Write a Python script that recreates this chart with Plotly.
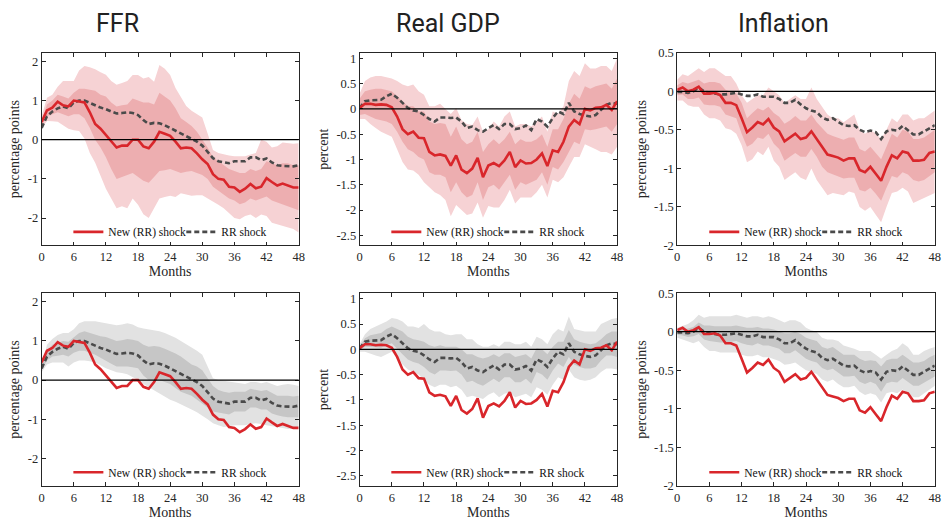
import plotly.graph_objects as go

MONTHS = list(range(49))
X_TICKS = list(range(0, 49, 6))
PANEL_TITLES = ["FFR", "Real GDP", "Inflation"]
Y_TITLES = ["percentage points", "percent", "percentage points"]
Y_TICKS = [[-2, -1, 0, 1, 2], [-2.5, -2, -1.5, -1, -0.5, 0, 0.5, 1], [-2, -1.5, -1, -0.5, 0, 0.5]]
Y_RANGES = [[-2.7, 2.22], [-2.7, 1.11], [-2.0, 0.5]]
LEGEND_NAMES = ["New (RR) shock", "RR shock"]

# ---------------- FFR ----------------
FFR_NEW = [0.45,0.75,0.82,0.97,0.88,0.85,1.0,0.98,0.95,0.7,0.4,0.28,0.12,-0.05,-0.2,-0.15,-0.15,0.0,0.0,-0.17,-0.22,-0.05,0.2,0.15,0.1,-0.05,-0.22,-0.2,-0.22,-0.35,-0.5,-0.62,-0.88,-1.0,-1.02,-1.2,-1.22,-1.33,-1.25,-1.13,-1.24,-1.2,-0.98,-1.08,-1.17,-1.12,-1.17,-1.22,-1.22]
FFR_RR = [0.3,0.6,0.72,0.8,0.85,0.8,0.95,1.0,1.0,0.95,0.88,0.82,0.78,0.72,0.67,0.68,0.7,0.68,0.63,0.5,0.4,0.43,0.42,0.37,0.3,0.22,0.14,0.07,0.02,-0.05,-0.15,-0.3,-0.47,-0.55,-0.57,-0.6,-0.55,-0.55,-0.55,-0.45,-0.45,-0.52,-0.48,-0.58,-0.65,-0.67,-0.68,-0.68,-0.65]
FFR_NEW_HI90 = [0.6,1.07,1.15,1.35,1.5,1.5,1.5,1.77,1.88,1.85,1.8,1.72,1.66,1.5,1.4,1.45,1.5,1.65,1.65,1.56,1.6,1.48,1.91,1.81,1.65,1.32,1.07,0.86,0.74,0.65,0.57,0.16,-0.26,-0.34,-0.38,-0.4,-0.42,-0.42,-0.42,-0.38,-0.34,0.0,-0.05,-0.2,-0.17,-0.07,-0.09,-0.1,-0.09]
FFR_NEW_LO90 = [0.3,0.48,0.47,0.46,0.38,0.28,0.24,0.22,0.03,-0.34,-0.59,-0.92,-1.25,-1.5,-1.75,-1.7,-1.75,-1.5,-1.66,-1.9,-2.0,-1.75,-1.5,-1.46,-1.43,-1.46,-1.37,-1.4,-1.43,-1.42,-1.42,-1.5,-1.58,-1.66,-1.75,-1.87,-2.0,-2.03,-1.95,-1.91,-2.0,-1.91,-1.95,-2.12,-2.16,-2.2,-2.24,-2.28,-2.37]
FFR_NEW_HI68 = [0.5,0.9,1.0,1.15,1.1,1.05,1.2,1.3,1.3,1.28,1.25,1.15,1.1,0.95,0.85,0.88,0.9,1.05,1.0,0.95,0.95,0.9,1.2,1.1,1.0,0.8,0.55,0.45,0.35,0.2,0.0,-0.2,-0.45,-0.55,-0.65,-0.75,-0.8,-0.85,-0.85,-0.75,-0.8,-0.75,-0.55,-0.6,-0.65,-0.6,-0.6,-0.65,-0.65]
FFR_NEW_LO68 = [0.35,0.6,0.65,0.7,0.65,0.6,0.65,0.65,0.55,0.3,0.0,-0.2,-0.45,-0.75,-1.0,-0.95,-0.9,-0.85,-0.95,-1.05,-1.1,-0.95,-0.8,-0.78,-0.75,-0.8,-0.85,-0.82,-0.8,-0.85,-0.9,-1.0,-1.2,-1.3,-1.4,-1.5,-1.55,-1.65,-1.6,-1.5,-1.55,-1.5,-1.45,-1.55,-1.6,-1.65,-1.7,-1.75,-1.8]
FFR_RR_HI90 = [0.35,0.9,1.05,1.15,1.2,1.2,1.3,1.45,1.5,1.5,1.5,1.48,1.45,1.42,1.4,1.42,1.45,1.42,1.35,1.32,1.3,1.28,1.25,1.2,1.15,1.08,1.0,0.92,0.85,0.75,0.65,0.35,0.05,0.0,-0.02,-0.03,-0.05,-0.08,-0.1,-0.05,-0.05,-0.08,-0.05,-0.1,-0.15,-0.12,-0.1,-0.12,-0.15]
FFR_RR_LO90 = [0.2,0.4,0.45,0.45,0.45,0.35,0.45,0.5,0.5,0.48,0.45,0.38,0.3,0.25,0.2,0.18,0.15,0.08,0.0,-0.1,-0.2,-0.28,-0.35,-0.42,-0.5,-0.55,-0.6,-0.68,-0.75,-0.82,-0.9,-1.0,-1.1,-1.15,-1.2,-1.18,-1.15,-1.15,-1.15,-1.12,-1.1,-1.12,-1.15,-1.18,-1.2,-1.22,-1.25,-1.25,-1.25]
FFR_RR_HI68 = [0.32,0.75,0.9,0.95,1.0,0.98,1.1,1.2,1.25,1.2,1.15,1.12,1.1,1.05,1.0,1.02,1.05,1.03,1.0,0.9,0.85,0.87,0.85,0.8,0.75,0.68,0.6,0.5,0.4,0.35,0.25,0.05,-0.15,-0.25,-0.3,-0.32,-0.3,-0.3,-0.3,-0.22,-0.25,-0.28,-0.25,-0.32,-0.4,-0.4,-0.4,-0.42,-0.4]
FFR_RR_LO68 = [0.25,0.5,0.6,0.62,0.65,0.6,0.7,0.75,0.75,0.7,0.65,0.58,0.5,0.42,0.35,0.35,0.35,0.33,0.3,0.12,0.0,0.02,0.0,-0.05,-0.1,-0.2,-0.3,-0.35,-0.4,-0.5,-0.6,-0.7,-0.8,-0.83,-0.85,-0.88,-0.8,-0.8,-0.8,-0.7,-0.7,-0.75,-0.75,-0.85,-0.9,-0.93,-0.95,-0.95,-0.95]

# ---------------- Real GDP ----------------
GDP_NEW = [0.02,0.1,0.1,0.08,0.09,0.08,0.03,-0.15,-0.4,-0.5,-0.45,-0.57,-0.58,-0.85,-0.92,-0.9,-0.93,-1.12,-0.92,-1.2,-1.27,-1.18,-0.97,-1.35,-1.12,-1.07,-1.13,-1.02,-0.85,-1.15,-1.02,-1.08,-1.07,-1.0,-0.88,-1.13,-0.82,-0.85,-0.65,-0.35,-0.22,-0.3,0.0,-0.03,0.02,0.03,0.08,-0.02,0.15]
GDP_RR = [0.02,0.15,0.17,0.17,0.18,0.25,0.3,0.22,0.12,0.02,-0.03,-0.05,-0.12,-0.2,-0.25,-0.17,-0.17,-0.18,-0.17,-0.25,-0.38,-0.35,-0.42,-0.45,-0.38,-0.32,-0.4,-0.3,-0.3,-0.4,-0.38,-0.33,-0.42,-0.2,-0.25,-0.35,-0.18,-0.05,-0.1,0.12,-0.05,-0.1,-0.13,-0.15,-0.12,-0.02,0.08,0.12,0.1]
GDP_NEW_HI90 = [0.3,0.55,0.62,0.65,0.65,0.63,0.6,0.55,0.48,0.45,0.48,0.35,0.28,0.05,0.05,0.1,0.0,-0.1,0.02,-0.22,-0.3,-0.32,-0.15,-0.45,-0.4,-0.25,-0.35,-0.15,-0.05,-0.35,-0.3,-0.3,-0.35,-0.25,-0.15,-0.45,-0.05,-0.1,0.05,0.55,0.75,0.65,0.9,0.8,0.8,0.85,0.85,0.75,1.0]
GDP_NEW_LO90 = [-0.2,-0.2,-0.3,-0.38,-0.45,-0.5,-0.55,-0.8,-1.05,-1.2,-1.22,-1.3,-1.45,-1.55,-1.65,-1.7,-1.8,-2.12,-1.9,-2.0,-2.1,-2.07,-1.85,-2.15,-1.92,-1.95,-1.95,-1.8,-1.6,-1.87,-1.75,-1.75,-1.75,-1.65,-1.5,-1.75,-1.4,-1.45,-1.35,-1.15,-0.95,-0.95,-0.7,-0.75,-0.8,-0.85,-0.85,-0.9,-0.75]
GDP_NEW_HI68 = [0.2,0.35,0.38,0.4,0.4,0.38,0.35,0.25,0.15,0.05,0.05,-0.05,-0.05,-0.25,-0.3,-0.28,-0.3,-0.55,-0.35,-0.6,-0.7,-0.65,-0.45,-0.85,-0.7,-0.6,-0.7,-0.6,-0.45,-0.7,-0.6,-0.65,-0.65,-0.6,-0.5,-0.75,-0.4,-0.4,-0.2,0.1,0.3,0.2,0.45,0.4,0.45,0.48,0.5,0.4,0.6]
GDP_NEW_LO68 = [-0.12,-0.1,-0.15,-0.2,-0.22,-0.25,-0.3,-0.45,-0.65,-0.8,-0.85,-0.95,-1.0,-1.25,-1.3,-1.3,-1.35,-1.65,-1.45,-1.65,-1.75,-1.7,-1.45,-1.8,-1.55,-1.5,-1.6,-1.45,-1.3,-1.6,-1.45,-1.5,-1.45,-1.4,-1.25,-1.5,-1.15,-1.2,-1.05,-0.85,-0.65,-0.7,-0.4,-0.42,-0.4,-0.38,-0.35,-0.45,-0.3]
GDP_RR_HI90 = [0.1,0.3,0.4,0.45,0.5,0.55,0.62,0.6,0.55,0.45,0.45,0.42,0.5,0.4,0.35,0.35,0.3,0.28,0.3,0.3,0.2,0.2,0.1,0.05,0.05,0.1,0.05,0.15,0.15,0.1,0.1,0.15,0.05,0.25,0.2,0.1,0.3,0.4,0.35,0.65,0.4,0.38,0.35,0.35,0.35,0.5,0.55,0.6,0.62]
GDP_RR_LO90 = [-0.05,-0.05,-0.08,-0.12,-0.15,-0.1,-0.05,-0.15,-0.3,-0.4,-0.45,-0.5,-0.6,-0.7,-0.75,-0.7,-0.7,-0.75,-0.72,-0.8,-0.95,-0.92,-0.95,-0.98,-0.9,-0.85,-0.95,-0.88,-0.85,-0.95,-0.92,-0.88,-0.95,-0.75,-0.8,-0.9,-0.7,-0.55,-0.6,-0.4,-0.55,-0.6,-0.62,-0.6,-0.55,-0.45,-0.38,-0.38,-0.4]
GDP_RR_HI68 = [0.05,0.22,0.28,0.3,0.32,0.4,0.45,0.4,0.35,0.25,0.2,0.18,0.15,0.08,0.05,0.08,0.05,0.05,0.05,0.0,-0.1,-0.1,-0.15,-0.18,-0.15,-0.1,-0.15,-0.08,-0.08,-0.15,-0.12,-0.1,-0.18,0.02,0.0,-0.1,0.05,0.15,0.15,0.38,0.2,0.15,0.12,0.1,0.12,0.2,0.3,0.35,0.35]
GDP_RR_LO68 = [-0.02,0.05,0.05,0.04,0.03,0.08,0.12,0.02,-0.1,-0.2,-0.25,-0.28,-0.35,-0.45,-0.5,-0.42,-0.42,-0.43,-0.42,-0.5,-0.65,-0.62,-0.68,-0.72,-0.65,-0.58,-0.65,-0.55,-0.55,-0.65,-0.65,-0.58,-0.68,-0.45,-0.5,-0.6,-0.42,-0.28,-0.35,-0.15,-0.3,-0.35,-0.38,-0.38,-0.35,-0.22,-0.12,-0.12,-0.15]

# ---------------- Inflation ----------------
INF_NEW = [0.02,0.05,0.0,0.02,0.06,-0.03,-0.03,-0.02,-0.05,-0.15,-0.15,-0.18,-0.35,-0.53,-0.47,-0.4,-0.43,-0.36,-0.47,-0.52,-0.65,-0.6,-0.55,-0.62,-0.6,-0.52,-0.62,-0.73,-0.82,-0.84,-0.86,-0.9,-0.87,-0.87,-1.02,-1.05,-0.98,-1.07,-1.16,-0.98,-0.83,-0.87,-0.78,-0.8,-0.9,-0.9,-0.89,-0.8,-0.78]
INF_RR = [-0.01,-0.01,-0.02,0.0,0.05,0.0,-0.02,-0.03,-0.04,-0.04,-0.03,-0.02,-0.04,-0.06,-0.06,-0.04,-0.07,-0.07,-0.07,-0.1,-0.15,-0.15,-0.11,-0.17,-0.22,-0.25,-0.27,-0.34,-0.37,-0.35,-0.4,-0.44,-0.45,-0.44,-0.5,-0.53,-0.51,-0.53,-0.62,-0.52,-0.5,-0.51,-0.45,-0.5,-0.56,-0.56,-0.52,-0.48,-0.44]
INF_NEW_HI90 = [0.15,0.22,0.2,0.25,0.3,0.25,0.3,0.3,0.25,0.2,0.2,0.1,-0.05,-0.15,-0.1,-0.05,-0.05,0.05,0.0,-0.05,-0.15,-0.1,-0.05,-0.1,-0.1,0.05,-0.1,-0.2,-0.3,-0.35,-0.35,-0.4,-0.35,-0.3,-0.5,-0.55,-0.5,-0.55,-0.62,-0.5,-0.35,-0.4,-0.3,-0.3,-0.38,-0.35,-0.35,-0.3,-0.25]
INF_NEW_LO90 = [-0.12,-0.12,-0.18,-0.2,-0.2,-0.3,-0.35,-0.35,-0.38,-0.48,-0.5,-0.55,-0.7,-0.92,-0.88,-0.78,-0.83,-0.72,-0.9,-0.98,-1.15,-1.1,-1.05,-1.12,-1.15,-1.0,-1.15,-1.25,-1.35,-1.32,-1.33,-1.35,-1.3,-1.32,-1.5,-1.55,-1.5,-1.6,-1.7,-1.5,-1.32,-1.3,-1.25,-1.3,-1.45,-1.42,-1.38,-1.35,-1.32]
INF_NEW_HI68 = [0.08,0.12,0.1,0.12,0.15,0.1,0.12,0.12,0.1,0.02,0.0,-0.03,-0.15,-0.35,-0.28,-0.22,-0.25,-0.2,-0.28,-0.33,-0.42,-0.38,-0.32,-0.38,-0.38,-0.3,-0.4,-0.48,-0.55,-0.58,-0.6,-0.63,-0.6,-0.6,-0.75,-0.78,-0.72,-0.8,-0.88,-0.72,-0.55,-0.6,-0.5,-0.52,-0.62,-0.62,-0.6,-0.55,-0.5]
INF_NEW_LO68 = [-0.05,-0.04,-0.1,-0.1,-0.08,-0.17,-0.18,-0.18,-0.2,-0.3,-0.32,-0.35,-0.55,-0.72,-0.68,-0.6,-0.62,-0.55,-0.68,-0.75,-0.9,-0.85,-0.8,-0.85,-0.85,-0.75,-0.85,-0.98,-1.05,-1.08,-1.1,-1.13,-1.12,-1.12,-1.28,-1.3,-1.25,-1.33,-1.42,-1.25,-1.1,-1.12,-1.05,-1.08,-1.15,-1.17,-1.15,-1.1,-1.05]
INF_RR_HI90 = [0.05,0.08,0.1,0.15,0.22,0.18,0.2,0.2,0.2,0.2,0.2,0.22,0.2,0.18,0.2,0.2,0.18,0.2,0.18,0.15,0.12,0.15,0.15,0.12,0.05,0.02,0.0,-0.08,-0.1,-0.1,-0.12,-0.18,-0.2,-0.22,-0.25,-0.25,-0.25,-0.3,-0.35,-0.3,-0.25,-0.22,-0.15,-0.2,-0.3,-0.3,-0.25,-0.22,-0.2]
INF_RR_LO90 = [-0.08,-0.1,-0.12,-0.15,-0.12,-0.2,-0.25,-0.25,-0.27,-0.27,-0.27,-0.27,-0.3,-0.32,-0.32,-0.3,-0.33,-0.33,-0.35,-0.38,-0.43,-0.42,-0.4,-0.45,-0.5,-0.52,-0.55,-0.62,-0.65,-0.62,-0.68,-0.72,-0.72,-0.7,-0.78,-0.82,-0.8,-0.82,-0.92,-0.8,-0.78,-0.8,-0.75,-0.8,-0.85,-0.85,-0.8,-0.75,-0.7]
INF_RR_HI68 = [0.02,0.03,0.04,0.06,0.12,0.08,0.08,0.07,0.07,0.07,0.07,0.08,0.06,0.05,0.05,0.06,0.04,0.04,0.03,0.0,-0.02,-0.02,0.0,-0.03,-0.08,-0.1,-0.12,-0.2,-0.22,-0.2,-0.25,-0.3,-0.3,-0.3,-0.35,-0.38,-0.37,-0.38,-0.45,-0.37,-0.35,-0.35,-0.3,-0.35,-0.4,-0.4,-0.38,-0.33,-0.3]
INF_RR_LO68 = [-0.04,-0.05,-0.07,-0.06,-0.03,-0.1,-0.12,-0.13,-0.14,-0.14,-0.13,-0.12,-0.15,-0.17,-0.18,-0.15,-0.18,-0.18,-0.2,-0.22,-0.28,-0.28,-0.24,-0.3,-0.35,-0.38,-0.4,-0.47,-0.5,-0.48,-0.53,-0.58,-0.58,-0.57,-0.65,-0.68,-0.65,-0.68,-0.78,-0.67,-0.65,-0.66,-0.6,-0.65,-0.7,-0.7,-0.67,-0.62,-0.58]

VARIABLES = [
    dict(new=FFR_NEW, rr=FFR_RR, nhi90=FFR_NEW_HI90, nlo90=FFR_NEW_LO90, nhi68=FFR_NEW_HI68, nlo68=FFR_NEW_LO68,
         rhi90=FFR_RR_HI90, rlo90=FFR_RR_LO90, rhi68=FFR_RR_HI68, rlo68=FFR_RR_LO68),
    dict(new=GDP_NEW, rr=GDP_RR, nhi90=GDP_NEW_HI90, nlo90=GDP_NEW_LO90, nhi68=GDP_NEW_HI68, nlo68=GDP_NEW_LO68,
         rhi90=GDP_RR_HI90, rlo90=GDP_RR_LO90, rhi68=GDP_RR_HI68, rlo68=GDP_RR_LO68),
    dict(new=INF_NEW, rr=INF_RR, nhi90=INF_NEW_HI90, nlo90=INF_NEW_LO90, nhi68=INF_NEW_HI68, nlo68=INF_NEW_LO68,
         rhi90=INF_RR_HI90, rlo90=INF_RR_LO90, rhi68=INF_RR_HI68, rlo68=INF_RR_LO68),
]
for v in VARIABLES:
    for k, arr in v.items():
        assert len(arr) == len(MONTHS), (k, len(arr))

# ---------------- styling ----------------
W, H = 948, 525
RED = "#d9262b"
DARK = "#4a4a4a"
RED90, RED68 = "#f6d2d4", "#edaeb0"
GREY90, GREY68 = "#e2e2e2", "#c6c6c6"
AXC = "#262626"
SERIF = "Liberation Serif, Times New Roman, serif"

COL_PX = [(39, 298.5), (360, 620), (680.7, 940.7)]
ROW_PX = [(47, 245), (294, 492)]
LEGEND_Y = [231, 478]
# left pixel of each legend entry (new shock, RR shock) per column
LEGEND_X = [(66, 180), (387, 501), (708, 822)]
TITLE_PX = [(115.5, 17), (449.5, 17), (787.5, 17)]


def band(x, hi, lo, color, xa, ya):
    return go.Scatter(x=list(x) + list(x)[::-1], y=list(hi) + list(lo)[::-1], fill="toself",
                      fillcolor=color, line=dict(width=0), mode="lines", hoverinfo="skip",
                      showlegend=False, xaxis=xa, yaxis=ya)


def lname(i):
    return "legend" if i == 1 else f"legend{i}"


fig = go.Figure()
layout = {}
shapes = []
annotations = []

for r in range(2):
    for c in range(3):
        k = r * 3 + c + 1
        xa, ya = f"x{k}" if k > 1 else "x", f"y{k}" if k > 1 else "y"
        lg_new, lg_rr = lname(2 * k - 1), lname(2 * k)
        v = VARIABLES[c]
        if r == 0:
            fig.add_trace(band(MONTHS, v["nhi90"], v["nlo90"], RED90, xa, ya))
            fig.add_trace(band(MONTHS, v["nhi68"], v["nlo68"], RED68, xa, ya))
        else:
            fig.add_trace(band(MONTHS, v["rhi90"], v["rlo90"], GREY90, xa, ya))
            fig.add_trace(band(MONTHS, v["rhi68"], v["rlo68"], GREY68, xa, ya))
        fig.add_trace(go.Scatter(x=MONTHS, y=v["rr"], mode="lines", name=LEGEND_NAMES[1],
                                 line=dict(color=DARK, width=2.6, dash="5px,3px"),
                                 xaxis=xa, yaxis=ya, legend=lg_rr))
        fig.add_trace(go.Scatter(x=MONTHS, y=v["new"], mode="lines", name=LEGEND_NAMES[0],
                                 line=dict(color=RED, width=2.6),
                                 xaxis=xa, yaxis=ya, legend=lg_new))

        x0, x1 = COL_PX[c]
        y0, y1 = ROW_PX[r]
        axis_common = dict(showline=True, linecolor=AXC, linewidth=0.8, mirror="ticks",
                           ticks="inside", ticklen=4, tickcolor=AXC, tickwidth=0.8,
                           showgrid=False, zeroline=False,
                           tickfont=dict(family=SERIF, size=12.5, color=AXC))
        layout["xaxis" + (str(k) if k > 1 else "")] = dict(
            domain=[x0 / W, x1 / W], anchor=ya, range=[0, 48], tickvals=X_TICKS,
            title=dict(text="Months", font=dict(family=SERIF, size=14, color=AXC), standoff=0),
            **axis_common)
        layout["yaxis" + (str(k) if k > 1 else "")] = dict(
            domain=[1 - y1 / H, 1 - y0 / H], anchor=xa, range=Y_RANGES[c], tickvals=Y_TICKS[c],
            ticktext=[f"{t:g}" for t in Y_TICKS[c]],
            title=dict(text=Y_TITLES[c], font=dict(family=SERIF, size=14, color=AXC), standoff=4),
            **axis_common)
        shapes.append(dict(type="line", xref=f"{xa} domain", x0=0, x1=1, yref=ya, y0=0, y1=0,
                           line=dict(color="black", width=1.2), layer="above"))
        for lg, lx in ((lg_new, LEGEND_X[c][0]), (lg_rr, LEGEND_X[c][1])):
            layout[lg] = dict(orientation="h", x=lx / W, y=1 - LEGEND_Y[r] / H,
                              xanchor="left", yanchor="middle",
                              bgcolor="rgba(0,0,0,0)", borderwidth=0, itemwidth=30,
                              font=dict(family=SERIF, size=11.5, color="#111"),
                              itemclick=False, itemdoubleclick=False)

for c in range(3):
    tx, ty = TITLE_PX[c]
    annotations.append(dict(text=PANEL_TITLES[c], x=tx / W, y=1 - ty / H, xref="paper", yref="paper",
                            showarrow=False, xanchor="center", yanchor="middle",
                            font=dict(family="Roboto", size=25, color="#222")))

fig.update_layout(width=W, height=H, margin=dict(l=0, r=0, t=0, b=0),
                  font=dict(family=SERIF),
                  paper_bgcolor="white", plot_bgcolor="white",
                  shapes=shapes, annotations=annotations, **layout)

fig.write_html("out.html", config={"displayModeBar": False},
               post_script="document.body.style.margin='0';document.body.style.padding='0';"
                           "document.documentElement.style.overflow='hidden';")
